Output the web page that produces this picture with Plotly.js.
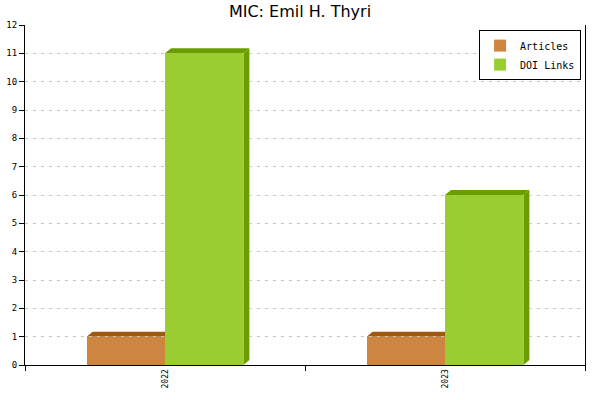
<!DOCTYPE html>
<html>
<head>
<meta charset="utf-8">
<script src="https://cdn.plot.ly/plotly-3.0.1.min.js"></script>
<style>
  html, body { margin: 0; padding: 0; background: #fff; }
  #chart { width: 600px; height: 400px; }
</style>
</head>
<body>
<div id="chart"></div>
<script>
const years = ['2022', '2023'];
const articles = [1, 1];
const doiLinks = [11, 6];

const seriesNames = ['Articles', 'DOI Links'];
const seriesValues = [articles, doiLinks];
const faceColors = ['#cd853f', '#9acd32'];
const darkColors = ['#a0580f', '#6a9e00'];

const margin = { l: 25, r: 15, t: 25, b: 35 };
const yMax = 12;
const barW = 0.28;      // bar width in category units
const offsets = [-barW, 0];
const depthX = 6, depthY = 5;   // 3d look, pixels

const plotW = 600 - margin.l - margin.r;
const plotH = 400 - margin.t - margin.b;
const pxPerCat = plotW / years.length;
const pxPerUnit = plotH / yMax;

let traces = seriesNames.map((name, s) => ({
    type: 'bar',
    name: name,
    x: years,
    y: seriesValues[s],
    width: barW,
    offset: offsets[s],
    marker: { color: faceColors[s], line: { width: 0 } },
    hoverinfo: 'none'
}));

// darker top and side faces, anchored on each bar's top-left corner
let shapes = [];
seriesValues.forEach((vals, s) => {
    vals.forEach((v, i) => {
        const w = barW * pxPerCat;
        const h = v * pxPerUnit;
        const base = {
            type: 'path', xref: 'x', yref: 'y',
            xsizemode: 'pixel', ysizemode: 'pixel',
            xanchor: i + offsets[s], yanchor: v,
            fillcolor: darkColors[s], line: { width: 0 }, layer: 'below'
        };
        shapes.push(Object.assign({}, base, {
            path: `M0,0 L${depthX},${depthY} L${w + depthX},${depthY} L${w},0 Z`
        }));
        shapes.push(Object.assign({}, base, {
            path: `M${w},0 L${w + depthX},${depthY} L${w + depthX},${depthY - h} L${w},${-h} Z`
        }));
    });
});

let layout = {
    width: 600,
    height: 400,
    margin: margin,
    paper_bgcolor: '#fff',
    plot_bgcolor: '#fff',
    title: {
        text: 'MIC: Emil H. Thyri',
        font: { family: 'DejaVu Sans', size: 16, color: '#000' },
        x: 0.5, xanchor: 'center', y: 0.972, yanchor: 'middle'
    },
    showlegend: true,
    legend: {
        x: 0.993, xanchor: 'right', y: 0.985, yanchor: 'top',
        bgcolor: '#fff', bordercolor: '#000', borderwidth: 1,
        font: { family: 'DejaVu Sans Mono', size: 10, color: '#000' },
        itemwidth: 30, tracegroupgap: 0,
        itemclick: false, itemdoubleclick: false
    },
    xaxis: {
        type: 'category',
        range: [-0.5, years.length - 0.5],
        tickson: 'boundaries',
        ticks: 'outside', ticklen: 5, tickcolor: '#000',
        tickangle: -90,
        tickfont: { family: 'DejaVu Sans Mono', size: 8, color: '#000' },
        showline: true, linecolor: '#000', linewidth: 1,
        showgrid: false, fixedrange: true
    },
    yaxis: {
        range: [0, yMax],
        dtick: 1,
        ticks: 'outside', ticklen: 5, tickcolor: '#000',
        tickfont: { family: 'DejaVu Sans Mono', size: 9, color: '#000' },
        showline: true, linecolor: '#000', linewidth: 1, mirror: true,
        showgrid: true, gridcolor: '#c4c4c4', griddash: '3px,5px', gridwidth: 1,
        zeroline: true, zerolinecolor: '#000',
        fixedrange: true
    },
    bargap: 0, bargroupgap: 0,
    shapes: shapes,
    hovermode: false
};

Plotly.newPlot('chart', traces, layout, { displayModeBar: false, staticPlot: true });
</script>
</body>
</html>
